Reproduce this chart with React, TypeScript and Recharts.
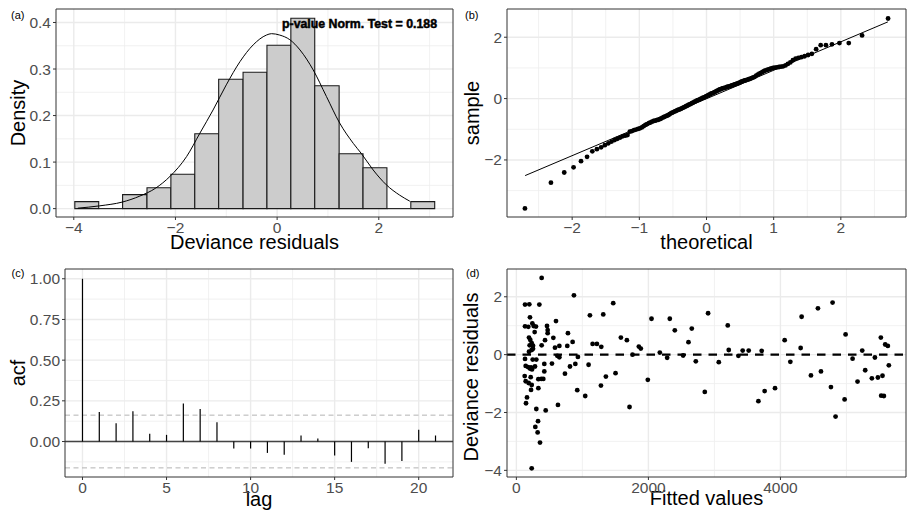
import React from "react";
import {
  ComposedChart,
  XAxis,
  YAxis,
  Line,
  Scatter,
  ReferenceLine,
  ReferenceArea,
} from "recharts";

/* ── (a) histogram of deviance residuals ─────────────────────────── */
const histEdges = [
  -3.98, -3.51, -3.04, -2.56, -2.09, -1.62, -1.15, -0.67, -0.2, 0.27, 0.74,
  1.22, 1.69, 2.16, 2.63, 3.1,
];
const histDensity = [
  0.015, 0, 0.03, 0.045, 0.074, 0.161, 0.278, 0.293, 0.351, 0.409, 0.264,
  0.118, 0.088, 0, 0.015,
];
const normX = [
  -3.92, -3.49, -3.05, -2.7, -2.39, -2.11, -1.78, -1.52, -1.26, -1.0, -0.73,
  -0.47, -0.21, -0.11, 0.05, 0.25, 0.45, 0.71, 0.97, 1.23, 1.5, 1.66, 1.89,
  2.15, 2.41, 2.61,
];
const normY = [
  0.001, 0.006, 0.014, 0.027, 0.044, 0.069, 0.112, 0.162, 0.212, 0.266, 0.316,
  0.352, 0.373, 0.376, 0.373, 0.363, 0.341, 0.298, 0.241, 0.184, 0.14, 0.118,
  0.083, 0.051, 0.029, 0.016,
];

/* ── (b) normal Q-Q ──────────────────────────────────────────────── */
const qqTheoretical = [
  -2.703, -2.316, -2.118, -1.979, -1.868, -1.778, -1.7, -1.632, -1.569, -1.513,
  -1.461, -1.413, -1.368, -1.326, -1.286, -1.248, -1.211, -1.176, -1.142, -1.11,
  -1.079, -1.049, -1.019, -0.991, -0.963, -0.936, -0.909, -0.884, -0.858, -0.834,
  -0.81, -0.786, -0.763, -0.74, -0.718, -0.696, -0.674, -0.653, -0.632, -0.611,
  -0.59, -0.57, -0.55, -0.53, -0.511, -0.491, -0.472, -0.453, -0.434, -0.415,
  -0.396, -0.378, -0.36, -0.341, -0.323, -0.305, -0.287, -0.27, -0.252, -0.234,
  -0.217, -0.199, -0.182, -0.164, -0.147, -0.129, -0.112, -0.095, -0.077, -0.06,
  -0.043, -0.026, -0.009, 0.009, 0.026, 0.043, 0.06, 0.077, 0.095, 0.112,
  0.129, 0.147, 0.164, 0.182, 0.199, 0.217, 0.234, 0.252, 0.27, 0.287,
  0.305, 0.323, 0.341, 0.36, 0.378, 0.396, 0.415, 0.434, 0.453, 0.472,
  0.491, 0.511, 0.53, 0.55, 0.57, 0.59, 0.611, 0.632, 0.653, 0.674,
  0.696, 0.718, 0.74, 0.763, 0.786, 0.81, 0.834, 0.858, 0.884, 0.909,
  0.936, 0.963, 0.991, 1.019, 1.049, 1.079, 1.11, 1.142, 1.176, 1.211,
  1.248, 1.286, 1.326, 1.368, 1.413, 1.461, 1.513, 1.569, 1.632, 1.7,
  1.778, 1.868, 1.979, 2.118, 2.316, 2.703,
];
const qqSample = [
  -3.58, -2.74, -2.41, -2.24, -2.04, -1.9, -1.72, -1.65, -1.59, -1.52,
  -1.46, -1.4, -1.35, -1.31, -1.27, -1.23, -1.21, -1.19, -1.08, -1.06,
  -1.03, -1.01, -0.99, -0.97, -0.94, -0.9, -0.86, -0.83, -0.8, -0.78,
  -0.75, -0.73, -0.72, -0.7, -0.69, -0.67, -0.65, -0.62, -0.6, -0.58,
  -0.56, -0.54, -0.51, -0.48, -0.46, -0.44, -0.42, -0.4, -0.38, -0.36,
  -0.35, -0.33, -0.31, -0.29, -0.27, -0.25, -0.23, -0.21, -0.19, -0.17,
  -0.15, -0.13, -0.11, -0.09, -0.07, -0.05, -0.04, -0.02, 0.0, 0.02,
  0.03, 0.05, 0.07, 0.09, 0.11, 0.13, 0.15, 0.17, 0.18, 0.2,
  0.22, 0.24, 0.26, 0.28, 0.3, 0.31, 0.33, 0.34, 0.35, 0.36,
  0.38, 0.39, 0.4, 0.41, 0.43, 0.44, 0.46, 0.47, 0.49, 0.5,
  0.52, 0.54, 0.56, 0.58, 0.59, 0.6, 0.62, 0.63, 0.65, 0.67,
  0.69, 0.71, 0.75, 0.78, 0.81, 0.84, 0.87, 0.9, 0.92, 0.94,
  0.96, 0.98, 1.0, 1.01, 1.02, 1.03, 1.04, 1.05, 1.08, 1.13,
  1.18, 1.25, 1.3, 1.33, 1.35, 1.38, 1.42, 1.46, 1.61, 1.74,
  1.74, 1.77, 1.81, 1.81, 2.06, 2.61,
];
const qqLineX = [-2.7, 2.7];
const qqLineY = [-2.51, 2.5];

/* ── (c) autocorrelation ─────────────────────────────────────────── */
const acfLag = [0, 1, 2, 3, 4, 5, 6, 7, 8, 9, 10, 11, 12, 13, 14, 15, 16, 17, 18, 19, 20, 21];
const acfValue = [
  1.0, 0.182, 0.112, 0.186, 0.047, 0.041, 0.233, 0.2, 0.119, -0.043, -0.043,
  -0.07, -0.082, 0.037, 0.018, -0.086, -0.125, -0.041, -0.137, -0.119, 0.072,
  0.037,
];
const acfBound = 0.162;

/* ── (d) residuals vs fitted ─────────────────────────────────────── */
const fittedVals = [
  383, 872, 131, 196, 348, 206, 600, 1114, 1316, 1467, 131, 181, 242, 262, 297,
  277, 464, 474, 474, 191, 211, 232, 252, 201, 232, 191, 252, 434, 383, 560,
  585, 651, 781, 852, 771, 620, 651, 932, 1155, 1220, 1286, 131, 247, 302, 141,
  176, 206, 237, 222, 282, 423, 539, 423, 126, 217, 141, 186, 232, 222, 333,
  378, 408, 333, 161, 146, 736, 812, 893, 1094, 922, 1043, 630, 444, 302, 328,
  287, 322, 358, 232, 1281, 1356, 1502,
  2047, 2324, 2400, 2657, 2904, 3202, 1583, 1674, 1855, 1885, 1759, 2173, 2284,
  2526, 2607, 2718, 3066, 3217, 3363, 3428, 3519, 1991, 1714, 2854, 3666,
  3716, 3761, 3918, 4064, 4150, 4306, 4321, 4462, 4568, 4614, 4765, 4790, 4835,
  4972, 4987, 5093, 5168, 5239, 5284, 5385, 5431, 5476, 5521, 5546, 5526, 5567,
  5587, 5627, 5642,
];
const devResid = [
  2.65, 2.05, 1.73, 1.74, 1.73, 1.29, 1.16, 1.36, 1.39, 1.78, 0.98, 0.96, 1.08,
  0.99, 0.97, 0.78, 0.99, 0.85, 0.74, 0.59, 0.51, 0.4, 0.31, 0.32, 0.16, 0.1,
  0.2, 0.5, 0.32, 0.58, 0.24, 0.3, 0.74, 0.44, 0.3, -0.04, -0.09, -0.08, 0.37,
  0.37, 0.27, -0.15, -0.17, -0.17, -0.39, -0.43, -0.48, -0.51, -0.44, -0.41,
  -0.32, -0.31, -0.58, -0.74, -0.78, -0.92, -0.98, -1.05, -1.22, -0.85, -0.84,
  -0.84, -1.16, -1.48, -1.68, -0.66, -0.41, -0.32, -0.35, -1.23, -1.43, -1.74,
  -1.93, -1.88, -2.3, -2.5, -2.69, -3.04, -3.93, -1.07, -0.76, -0.64,
  1.24, 1.24, 0.84, 0.9, 1.43, 1.01, 0.59, 0.5, 0.28, 0.21, 0.0, 0.07, -0.11,
  -0.03, 0.43, -0.23, -0.26, 0.16, -0.04, 0.14, 0.14, -0.87, -1.81, -1.29,
  -1.61,
  0.13, -1.26, -1.16, 0.5, -0.25, 0.23, 1.31, -0.72, 1.6, -0.58, -1.12, 1.8,
  -2.14, -1.55, 0.7, -0.14, -0.93, 0.14, -0.54, -0.82, -0.1, -0.79, 0.59,
  -0.73, -1.42, -1.43, 0.35, 0.3, -0.37,
];

const FONT = '"Liberation Sans", Arial, Helvetica, sans-serif';
const tickStyle = { fontSize: 15.5, fill: "#4D4D4D", fontFamily: FONT };
const tickLine = { stroke: "#333333", strokeWidth: 1 };
const fmt = (d: number) => (v: number) => v.toFixed(d).replace("-", "\u2212");

/* eslint-disable @typescript-eslint/no-explicit-any */
const xTitle = (text: string, dy: number) => (p: any) => {
  const vb = p.viewBox;
  return (
    <text
      x={vb.x + vb.width / 2}
      y={vb.y + dy}
      textAnchor="middle"
      fontSize={20}
      fontFamily={FONT}
      fill="#000"
    >
      {text}
    </text>
  );
};

const yTitle = (text: string, cx: number, shift = 0) => (p: any) => {
  const vb = p.viewBox;
  const cy = vb.y + vb.height / 2 + shift;
  return (
    <text
      x={cx}
      y={cy}
      transform={`rotate(-90 ${cx} ${cy})`}
      textAnchor="middle"
      dominantBaseline="central"
      fontSize={20}
      fontFamily={FONT}
      fill="#000"
    >
      {text}
    </text>
  );
};

const dot = (p: any) => <circle cx={p.cx} cy={p.cy} r={2.4} fill="#000" />;
/* eslint-enable @typescript-eslint/no-explicit-any */

function grid(
  id: string,
  xMaj: number[],
  xMin: number[],
  yMaj: number[],
  yMin: number[]
) {
  const out: React.ReactNode[] = [];
  xMin.forEach((v) =>
    out.push(<ReferenceLine key={id + "xn" + v} x={v} stroke="#EEEEEE" strokeWidth={0.8} zIndex={-100} />)
  );
  yMin.forEach((v) =>
    out.push(<ReferenceLine key={id + "yn" + v} y={v} stroke="#EEEEEE" strokeWidth={0.8} zIndex={-100} />)
  );
  xMaj.forEach((v) =>
    out.push(<ReferenceLine key={id + "xj" + v} x={v} stroke="#EBEBEB" strokeWidth={1.4} zIndex={-100} />)
  );
  yMaj.forEach((v) =>
    out.push(<ReferenceLine key={id + "yj" + v} y={v} stroke="#EBEBEB" strokeWidth={1.4} zIndex={-100} />)
  );
  return out;
}

const border = (xd: number[], yd: number[]) => (
  <ReferenceArea
    x1={xd[0]}
    x2={xd[1]}
    y1={yd[0]}
    y2={yd[1]}
    fill="none"
    fillOpacity={0}
    stroke="#333333"
    strokeWidth={1}
    zIndex={900}
    ifOverflow="visible"
  />
);

const aX = [-4.35, 3.46];
const aY = [-0.018, 0.429];
const bX = [-2.97, 2.97];
const bY = [-3.86, 2.92];
const cX = [-1.04, 22.04];
const cY = [-0.218, 1.06];
const dX = [-142, 5902];
const dY = [-4.23, 2.96];

export default function App() {
  const normCurve = normX.map((x, i) => ({ x, y: normY[i] }));
  const qqPts = qqTheoretical.map((x, i) => ({ x, y: qqSample[i] }));
  const qqLine = qqLineX.map((x, i) => ({ x, y: qqLineY[i] }));
  const acfPts = acfLag.map((x, i) => ({ x, y: acfValue[i] }));
  const residPts = fittedVals.map((x, i) => ({ x, y: devResid[i] }));

  const axisCommon = {
    type: "number" as const,
    allowDataOverflow: true,
    axisLine: false,
    tickSize: 3,
    tickMargin: 2,
    tickLine,
    tick: tickStyle,
    interval: 0 as const,
  };

  return (
    <div style={{ position: "absolute", left: 0, top: 0, width: 907, height: 516, background: "#fff", overflow: "hidden" }}>
      {/* (a) */}
      <div style={{ position: "absolute", left: 0, top: 0 }}>
        <ComposedChart width={455} height={258} margin={{ top: 9, right: 2, bottom: 0, left: 0 }}>
          <XAxis {...axisCommon} dataKey="x" domain={aX} ticks={[-4, -2, 0, 2]} tickFormatter={fmt(0)} height={41} label={xTitle("Deviance residuals", 31.5)} />
          <YAxis {...axisCommon} dataKey="y" domain={aY} ticks={[0, 0.1, 0.2, 0.3, 0.4]} tickFormatter={fmt(1)} width={56} label={yTitle("Density", 18)} />
          {grid("a", [-4, -2, 0, 2], [-3, -1, 1, 3], [0, 0.1, 0.2, 0.3, 0.4], [0.05, 0.15, 0.25, 0.35])}
          {histDensity.map((d, i) =>
            d > 0 ? (
              <ReferenceArea
                key={"h" + i}
                x1={histEdges[i]}
                x2={histEdges[i + 1]}
                y1={0}
                y2={d}
                fill="#CCCCCC"
                fillOpacity={1}
                stroke="#1A1A1A"
                strokeWidth={1.1}
                zIndex={100}
              />
            ) : (
              <ReferenceLine
                key={"h" + i}
                segment={[
                  { x: histEdges[i], y: 0 },
                  { x: histEdges[i + 1], y: 0 },
                ]}
                stroke="#1A1A1A"
                strokeWidth={1.1}
                zIndex={100}
              />
            )
          )}
          <Line data={normCurve} dataKey="y" type="monotone" stroke="#000" strokeWidth={1} dot={false} activeDot={false} isAnimationActive={false} zIndex={400} />
          {border(aX, aY)}
        </ComposedChart>
      </div>

      {/* (b) */}
      <div style={{ position: "absolute", left: 453, top: 0 }}>
        <ComposedChart width={454} height={258} margin={{ top: 9, right: 1, bottom: 0, left: 0 }}>
          <XAxis {...axisCommon} dataKey="x" domain={bX} ticks={[-2, -1, 0, 1, 2]} tickFormatter={fmt(0)} height={41} label={xTitle("theoretical", 31.5)} />
          <YAxis {...axisCommon} dataKey="y" domain={bY} ticks={[-2, 0, 2]} tickFormatter={fmt(0)} width={54} label={yTitle("sample", 18.5)} />
          {grid("b", [-2, -1, 0, 1, 2], [-2.5, -1.5, -0.5, 0.5, 1.5, 2.5], [-2, 0, 2], [-3, -1, 1])}
          <Scatter data={qqPts} shape={dot} isAnimationActive={false} zIndex={600} />
          <Line data={qqLine} dataKey="y" type="linear" stroke="#000" strokeWidth={1} dot={false} activeDot={false} isAnimationActive={false} zIndex={700} />
          {border(bX, bY)}
        </ComposedChart>
      </div>

      {/* (c) */}
      <div style={{ position: "absolute", left: 0, top: 258 }}>
        <ComposedChart width={455} height={258} margin={{ top: 11, right: 2, bottom: 0, left: 0 }}>
          <XAxis {...axisCommon} dataKey="x" domain={cX} ticks={[0, 5, 10, 15, 20]} tickFormatter={fmt(0)} height={39} label={xTitle("lag", 28.5)} />
          <YAxis {...axisCommon} dataKey="y" domain={cY} ticks={[0, 0.25, 0.5, 0.75, 1]} tickFormatter={fmt(2)} width={65} label={yTitle("acf", 17.5)} />
          {grid("c", [0, 5, 10, 15, 20], [2.5, 7.5, 12.5, 17.5], [0, 0.25, 0.5, 0.75, 1], [-0.125, 0.125, 0.375, 0.625, 0.875])}
          <ReferenceLine y={acfBound} stroke="#B3B3B3" strokeWidth={1} strokeDasharray="5 3.5" zIndex={300} />
          <ReferenceLine y={-acfBound} stroke="#B3B3B3" strokeWidth={1} strokeDasharray="5 3.5" zIndex={300} />
          <ReferenceLine y={0} stroke="#444444" strokeWidth={1.4} zIndex={350} />
          {acfPts.map((p) => (
            <ReferenceLine
              key={"acf" + p.x}
              segment={[
                { x: p.x, y: 0 },
                { x: p.x, y: p.y },
              ]}
              stroke="#000"
              strokeWidth={1.2}
              zIndex={400}
            />
          ))}
          <Scatter data={acfPts} shape={() => <g />} isAnimationActive={false} />
          {border(cX, cY)}
        </ComposedChart>
      </div>

      {/* (d) */}
      <div style={{ position: "absolute", left: 453, top: 258 }}>
        <ComposedChart width={454} height={258} margin={{ top: 11, right: 1, bottom: 0, left: 0 }}>
          <XAxis {...axisCommon} dataKey="x" domain={dX} ticks={[0, 2000, 4000]} tickFormatter={fmt(0)} height={39} label={xTitle("Fitted values", 27.5)} />
          <YAxis {...axisCommon} dataKey="y" domain={dY} ticks={[-4, -2, 0, 2]} tickFormatter={fmt(0)} width={54} label={yTitle("Deviance residuals", 18, 4)} />
          {grid("d", [0, 2000, 4000], [1000, 3000, 5000], [-4, -2, 0, 2], [-3, -1, 1])}
          <Scatter data={residPts} shape={dot} isAnimationActive={false} zIndex={600} />
          <ReferenceLine y={0} stroke="#000" strokeWidth={2.2} strokeDasharray="8.5 7" zIndex={700} />
          {border(dX, dY)}
        </ComposedChart>
      </div>

      {/* panel tags and annotation */}
      <svg width={907} height={516} style={{ position: "absolute", left: 0, top: 0, pointerEvents: "none" }}>
        <g fontFamily={FONT} fontSize={11} fill="#000">
          <text x={11} y={18.5}>(a)</text>
          <text x={465} y={18.5}>(b)</text>
          <text x={11.5} y={276.5}>(c)</text>
          <text x={466} y={277}>(d)</text>
        </g>
        <text
          x={282}
          y={27.5}
          fontFamily={FONT}
          fontSize={13}
          fontWeight={700}
          fill="#000"
          stroke="#000"
          strokeWidth={0.5}
          textLength={155}
          lengthAdjust="spacingAndGlyphs"
        >
          p-value Norm. Test = 0.188
        </text>
      </svg>
    </div>
  );
}
